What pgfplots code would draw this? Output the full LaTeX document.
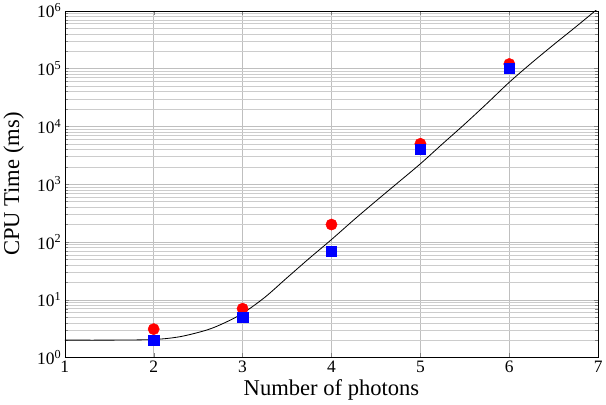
\documentclass[border=0pt]{standalone}
\usepackage{pgfplots}
\pgfplotsset{compat=1.18}
\usepackage{fontspec}
\setmainfont{Liberation Serif}
\begin{document}
\begin{tikzpicture}
\begin{axis}[width=520pt,height=338pt,scale only axis,
 ymode=log, xmin=1,xmax=7, ymin=1,ymax=1e6,
 xtick={1,...,7}, ytick={1,10,100,1000,10000,100000,1000000},
 yticklabels={10\textsuperscript{0},10\textsuperscript{1},10\textsuperscript{2},10\textsuperscript{3},10\textsuperscript{4},10\textsuperscript{5},10\textsuperscript{6}},
 grid=both, major grid style={gray!50}, minor grid style={gray!40},
 minor x tick num=0,
 xlabel={Number of photons}, ylabel={CPU Time (ms)},
 ylabel style={yshift=6pt},
 label style={font=\fontsize{22}{25}\selectfont},
 tick label style={font=\fontsize{17}{19}\selectfont},
 /pgf/number format/assume math mode=true,
 tick align=inside, axis line style={black}]
\addplot[black, smooth, thick] coordinates {(1,2) (1.5,2) (2,2.05) (2.3,2.3) (2.6,3) (2.8,4) (3,5.8) (3.25,11) (3.5,24) (3.75,52) (4,110) (4.25,240) (4.5,510) (4.75,1070) (5,2250) (5.25,5000) (5.5,11000) (5.75,25000) (6,58000) (6.25,125000) (6.5,260000) (6.75,530000) (7,1.1e6)};
\addplot[only marks, mark=*, mark size=5.5pt, color=red] coordinates {(2,3.1) (3,7) (4,200) (5,5000) (6,120000)};
\addplot[only marks, mark=square*, mark size=5pt, color=blue] coordinates {(2,2.0) (3,5) (4,70) (5,4000) (6,100000)};
\end{axis}
\end{tikzpicture}
\end{document}
